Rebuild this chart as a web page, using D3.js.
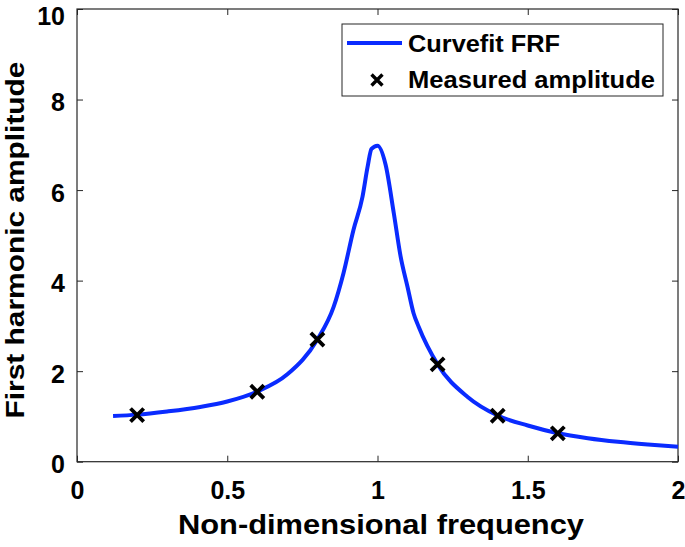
<!DOCTYPE html>
<html><head><meta charset="utf-8">
<script src="https://cdn.jsdelivr.net/npm/d3@7"></script>
<style>body{margin:0;background:#fff}svg{display:block}text{font-family:"Liberation Sans",Arial,sans-serif;font-weight:bold}</style>
</head><body>
<script>
const curveX = [0.12,0.2,0.3,0.41,0.5,0.6,0.7,0.8,0.854,0.887,0.92,0.95,0.967,0.98,1.0,1.027,1.054,1.077,1.1,1.12,1.137,1.2,1.3,1.4,1.5,1.6,1.7,1.8,1.9,2.0];
const curveY = [1.01,1.04,1.11,1.21,1.33,1.55,1.93,2.70,3.42,4.17,5.12,5.85,6.51,6.91,6.98,6.56,5.5,4.53,3.86,3.28,2.98,2.15,1.43,1.02,0.80,0.63,0.52,0.44,0.38,0.33];
const measX = [0.2,0.6,0.8,1.2,1.4,1.6];
const measY = [1.03,1.545,2.70,2.15,1.016,0.627];
const xTicks = [0,0.5,1,1.5,2];
const yTicks = [0,2,4,6,8,10];
const legendLabels = ["Curvefit FRF","Measured amplitude"];

const W=685,H=547;
const m={l:77,r:678,t:9,b:461.7};
const svg=d3.select("body").append("svg").attr("width",W).attr("height",H);
const x=d3.scaleLinear().domain([0,2]).range([m.l,m.r]);
const y=d3.scaleLinear().domain([0,10]).range([m.b,m.t]);

const axisCol="#262626";
function styleAxis(g){g.select(".domain").remove();g.selectAll(".tick line").attr("stroke",axisCol);}
svg.append("g").attr("transform",`translate(0,${m.b})`).call(d3.axisBottom(x).tickValues(xTicks).tickSize(-6).tickFormat(d3.format("~g")).tickPadding(20))
  .call(styleAxis).selectAll("text").attr("font-size",25).attr("fill","#000");
svg.append("g").attr("transform",`translate(0,${m.t})`).call(d3.axisTop(x).tickValues(xTicks).tickSize(-6).tickFormat(""))
  .call(styleAxis);
svg.append("g").attr("transform",`translate(${m.l},0)`).call(d3.axisLeft(y).tickValues(yTicks).tickSize(-6).tickPadding(12))
  .call(styleAxis).selectAll("text").attr("font-size",25).attr("fill","#000")
  .attr("dy",d=>d===10?"0.6em":"0.45em");
svg.append("g").attr("transform",`translate(${m.r},0)`).call(d3.axisRight(y).tickValues(yTicks).tickSize(-6).tickFormat(""))
  .call(styleAxis);
svg.append("rect").attr("x",m.l).attr("y",m.t).attr("width",m.r-m.l).attr("height",m.b-m.t)
  .attr("fill","none").attr("stroke",axisCol).attr("stroke-width",1.2);

const pts=curveX.map((d,i)=>[d,curveY[i]]);
svg.append("path").datum(pts).attr("fill","none").attr("stroke","#0a2bff").attr("stroke-width",4)
  .attr("stroke-linejoin","round")
  .attr("d",d3.line().x(d=>x(d[0])).y(d=>y(d[1])).curve(d3.curveMonotoneX));

const sym=d3.symbol().type(d3.symbolX).size(115);
svg.selectAll(".mk").data(measX.map((d,i)=>[d,measY[i]])).enter().append("path")
  .attr("transform",d=>`translate(${x(d[0])},${y(d[1])})`).attr("d",sym)
  .attr("fill","none").attr("stroke","#000").attr("stroke-width",3.8);

svg.append("text").attr("x",381).attr("y",534).attr("text-anchor","middle").attr("font-size",28)
  .attr("textLength",406).attr("lengthAdjust","spacingAndGlyphs")
  .text("Non-dimensional frequency");
svg.append("text").attr("transform",`translate(24,240) rotate(-90)`).attr("text-anchor","middle").attr("font-size",26)
  .attr("textLength",357).attr("lengthAdjust","spacingAndGlyphs")
  .text("First harmonic amplitude");

// legend
const lg=svg.append("g");
lg.append("rect").attr("x",342).attr("y",24).attr("width",321).attr("height",72).attr("fill","#fff").attr("stroke",axisCol).attr("stroke-width",1);
lg.append("line").attr("x1",347).attr("x2",402).attr("y1",43).attr("y2",43).attr("stroke","#0a2bff").attr("stroke-width",4);
lg.append("path").attr("transform","translate(377,80)").attr("d",d3.symbol().type(d3.symbolX).size(80)).attr("stroke","#000").attr("stroke-width",3.4);
const lens=[152,247];
lg.selectAll(".lt").data(legendLabels).enter().append("text").attr("x",408).attr("y",(d,i)=>52+i*36)
  .attr("font-size",23).attr("textLength",(d,i)=>lens[i]).attr("lengthAdjust","spacingAndGlyphs").text(d=>d);
</script>
</body></html>
